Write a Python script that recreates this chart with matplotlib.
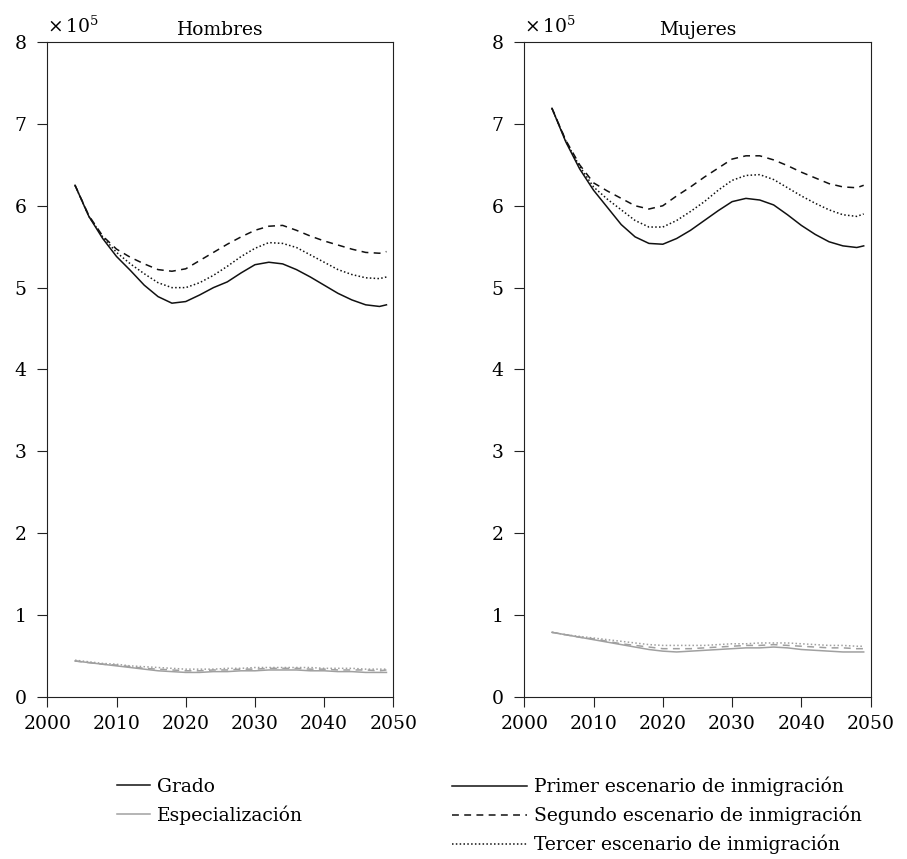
import matplotlib
matplotlib.use('Agg')
import matplotlib.pyplot as plt
from matplotlib.lines import Line2D

plt.rcParams['font.family'] = ['DejaVu Serif']
plt.rcParams['mathtext.fontset'] = 'dejavuserif'
plt.rcParams['font.size'] = 13.5

# años de la proyección
years = list(range(2004, 2049, 2)) + [2049]

# Hombres - Grado (x 10^5)
h_grado_1 = [6.25, 5.87, 5.60, 5.38, 5.21, 5.03, 4.89, 4.81, 4.83, 4.91, 5.00, 5.07,
             5.18, 5.28, 5.31, 5.29, 5.22, 5.13, 5.03, 4.93, 4.85, 4.79, 4.77, 4.79]
h_grado_2 = [6.25, 5.88, 5.63, 5.47, 5.37, 5.29, 5.22, 5.20, 5.23, 5.33, 5.43, 5.53,
             5.62, 5.70, 5.75, 5.76, 5.70, 5.63, 5.57, 5.52, 5.47, 5.43, 5.42, 5.44]
h_grado_3 = [6.25, 5.87, 5.62, 5.43, 5.29, 5.17, 5.06, 5.00, 5.00, 5.06, 5.15, 5.26,
             5.38, 5.48, 5.55, 5.54, 5.49, 5.40, 5.31, 5.22, 5.16, 5.12, 5.11, 5.13]
# Hombres - Especialización
h_esp_1 = [0.44, 0.42, 0.40, 0.38, 0.36, 0.34, 0.32, 0.31, 0.30, 0.30, 0.31, 0.31,
           0.32, 0.32, 0.33, 0.33, 0.33, 0.32, 0.32, 0.31, 0.31, 0.30, 0.30, 0.30]
h_esp_2 = [0.44, 0.42, 0.40, 0.39, 0.37, 0.35, 0.34, 0.33, 0.32, 0.32, 0.33, 0.33,
           0.34, 0.34, 0.35, 0.35, 0.35, 0.34, 0.34, 0.33, 0.33, 0.33, 0.32, 0.33]
h_esp_3 = [0.45, 0.43, 0.41, 0.40, 0.38, 0.37, 0.36, 0.35, 0.34, 0.34, 0.34, 0.35,
           0.35, 0.36, 0.36, 0.36, 0.36, 0.36, 0.35, 0.35, 0.35, 0.34, 0.34, 0.34]

# Mujeres - Grado
m_grado_1 = [7.19, 6.78, 6.45, 6.19, 5.98, 5.77, 5.62, 5.54, 5.53, 5.60, 5.70, 5.82,
             5.94, 6.05, 6.09, 6.07, 6.01, 5.89, 5.76, 5.65, 5.56, 5.51, 5.49, 5.51]
m_grado_2 = [7.19, 6.80, 6.50, 6.28, 6.18, 6.09, 6.00, 5.96, 6.00, 6.12, 6.23, 6.35,
             6.46, 6.57, 6.61, 6.61, 6.56, 6.49, 6.41, 6.34, 6.27, 6.23, 6.22, 6.25]
m_grado_3 = [7.19, 6.79, 6.48, 6.23, 6.08, 5.95, 5.82, 5.74, 5.74, 5.82, 5.93, 6.05,
             6.19, 6.31, 6.37, 6.38, 6.32, 6.22, 6.12, 6.03, 5.95, 5.89, 5.87, 5.90]
# Mujeres - Especialización
m_esp_1 = [0.79, 0.76, 0.73, 0.70, 0.67, 0.64, 0.61, 0.58, 0.56, 0.55, 0.56, 0.57,
           0.58, 0.59, 0.60, 0.60, 0.61, 0.60, 0.58, 0.57, 0.56, 0.55, 0.55, 0.55]
m_esp_2 = [0.79, 0.76, 0.73, 0.71, 0.68, 0.65, 0.63, 0.61, 0.59, 0.59, 0.59, 0.60,
           0.61, 0.62, 0.63, 0.63, 0.64, 0.63, 0.62, 0.61, 0.60, 0.60, 0.59, 0.59]
m_esp_3 = [0.79, 0.76, 0.74, 0.72, 0.70, 0.68, 0.66, 0.64, 0.63, 0.63, 0.63, 0.63,
           0.64, 0.65, 0.65, 0.66, 0.66, 0.66, 0.65, 0.64, 0.63, 0.63, 0.62, 0.62]

titles = ['Hombres', 'Mujeres']
x_ticks = [2000, 2010, 2020, 2030, 2040, 2050]
y_ticks = [0, 1, 2, 3, 4, 5, 6, 7, 8]

NEGRO = '#111111'
GRIS = '#a0a0a0'
estilos = [dict(linestyle='-'),
           dict(linestyle=(0, (4.5, 3.5))),
           dict(linestyle=(0, (1, 1.5)))]

fig = plt.figure(figsize=(9.07, 8.59), dpi=100)
ax1 = fig.add_axes([0.0522, 0.1886, 0.3815, 0.7625])
ax2 = fig.add_axes([0.578, 0.1886, 0.3819, 0.7625])

datos = [((h_grado_1, h_grado_2, h_grado_3), (h_esp_1, h_esp_2, h_esp_3)),
         ((m_grado_1, m_grado_2, m_grado_3), (m_esp_1, m_esp_2, m_esp_3))]

for ax, titulo, (grado, esp) in zip([ax1, ax2], titles, datos):
    for serie, est in zip(grado, estilos):
        ax.plot(years, serie, color=NEGRO, linewidth=1.1, **est)
    for serie, est in zip(esp, estilos):
        ax.plot(years, serie, color=GRIS, linewidth=1.1, **est)
    ax.set_xlim(2000, 2050)
    ax.set_ylim(0, 8)
    ax.set_xticks(x_ticks)
    ax.set_yticks(y_ticks)
    ax.tick_params(direction='out', length=7, width=0.8, colors='#222222', labelsize=13.5)
    ax.tick_params(axis='y', pad=8)
    ax.tick_params(axis='x', pad=6)
    ax.tick_params(labelcolor='black')
    ax.tick_params(top=False, right=False)
    for s in ax.spines.values():
        s.set_linewidth(0.8)
        s.set_color('#222222')
    ax.set_title(titulo, fontsize=13.5, pad=5)
    ax.text(0.0, 1.008, r'$\times\,10^5$', transform=ax.transAxes,
            ha='left', va='bottom', fontsize=13.5)

# leyendas
h_tipo = [Line2D([], [], color=NEGRO, linewidth=1.1),
          Line2D([], [], color=GRIS, linewidth=1.1)]
fig.legend(h_tipo, ['Grado', 'Especialización'], loc='upper left',
           bbox_to_anchor=(117 / 907, 1 - 778 / 859), frameon=False,
           handlelength=1.75, handletextpad=0.4, borderpad=0, borderaxespad=0,
           labelspacing=0.5, fontsize=13.5)

h_esc = [Line2D([], [], color=NEGRO, linewidth=1.1, **est) for est in estilos]
fig.legend(h_esc, ['Primer escenario de inmigración',
                   'Segundo escenario de inmigración',
                   'Tercer escenario de inmigración'],
           loc='upper left', bbox_to_anchor=(452 / 907, 1 - 777 / 859), frameon=False,
           handlelength=4.0, handletextpad=0.4, borderpad=0, borderaxespad=0,
           labelspacing=0.5, fontsize=13.5)

fig.savefig('out.png', dpi=100)
